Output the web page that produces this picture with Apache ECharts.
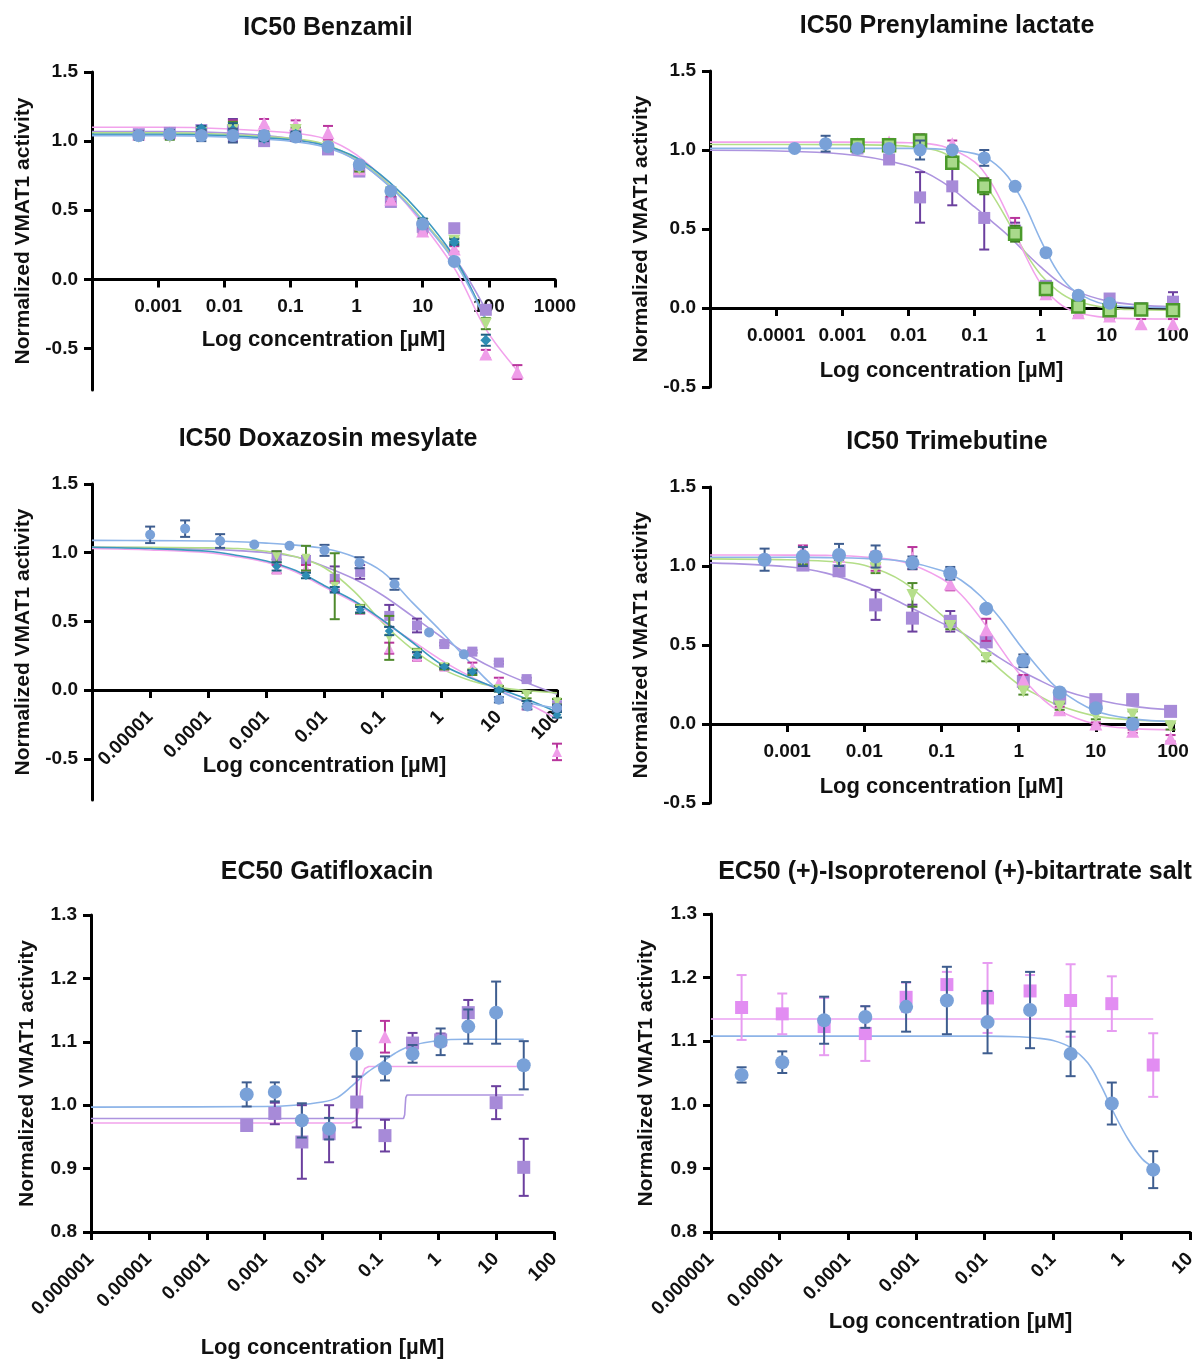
<!DOCTYPE html>
<html>
<head>
<meta charset="utf-8">
<script src="https://cdn.jsdelivr.net/npm/echarts@6/dist/echarts.min.js"></script>
<style>
html, body { margin: 0; background: #fff; }
#chart { width: 1199px; height: 1362px; }
</style>
</head>
<body>
<div id="chart"></div>
<script>
// ---- IC50 Benzamil ----
var conc1 = [0.00051, 0.0015, 0.0045, 0.0135, 0.04, 0.12, 0.37, 1.1, 3.3, 10, 30, 90, 270];
var blue1 = [1.04, 1.05, 1.04, 1.04, 1.04, 1.03, 0.96, 0.83, 0.64, 0.40, 0.13, null];
var blueErr1 = [0.03, 0.03, 0.04, 0.05, 0.03, 0.03, 0.02, 0.02, 0.02, 0.02, 0.02, 0];
var purple1 = [1.05, 1.06, 1.08, 1.08, 1.0, 1.04, 0.94, 0.78, 0.56, 0.38, 0.37, -0.22];
var purpleErr1 = [0.02, 0.02, 0.03, 0.08, 0.03, 0.03, 0.03, 0.02, 0.02, 0.02, 0.02, 0.03];
var pink1 = [1.05, 1.06, 1.08, 1.10, 1.13, 1.12, 1.06, 0.80, 0.58, 0.35, 0.22, -0.54, -0.67];
var pinkErr1 = [0.02, 0.02, 0.02, 0.05, 0.03, 0.03, 0.05, 0.02, 0.02, 0.02, 0.02, 0.03, 0.05];
var green1 = [1.03, 1.03, 1.06, 1.08, 1.03, 1.08, 0.96, 0.80, 0.63, 0.40, 0.28, -0.32];
var greenErr1 = [0.02, 0.02, 0.02, 0.06, 0.02, 0.02, 0.02, 0.02, 0.02, 0.02, 0.02, 0.04];
var teal1 = [1.04, 1.06, 1.09, 1.08, 1.02, 1.05, 0.96, 0.83, 0.64, 0.42, 0.27, -0.44];
var tealErr1 = [0.02, 0.02, 0.02, 0.05, 0.02, 0.02, 0.02, 0.02, 0.02, 0.02, 0.02, 0.04];
var fitX1 = [0.0001, 0.001, 0.01, 0.1, 0.32, 1, 3.2, 10, 32, 90, 270];
var blueFit1 = [1.04, 1.04, 1.03, 1.00, 0.96, 0.86, 0.67, 0.42, 0.11, -0.30];
var tealFit1 = [1.05, 1.05, 1.04, 1.01, 0.97, 0.88, 0.70, 0.46, 0.14, -0.30];
var greenFit1 = [1.06, 1.06, 1.05, 1.02, 0.98, 0.87, 0.68, 0.43, 0.12, -0.28];
var purpleFit1 = [1.07, 1.07, 1.06, 1.02, 0.97, 0.86, 0.67, 0.42, 0.14, -0.22];
var pinkFit1 = [1.10, 1.10, 1.09, 1.06, 1.02, 0.90, 0.68, 0.40, 0.06, -0.36, -0.66];
var xLabels1 = ['0.0001', '0.001', '0.01', '0.1', '1', '10', '100', '1000'];

// ---- IC50 Prenylamine lactate ----
var conc2 = [0.00019, 0.00056, 0.0017, 0.0051, 0.015, 0.046, 0.14, 0.41, 1.2, 3.7, 11, 33, 100];
var blue2 = [1.01, 1.04, 1.01, 1.01, 1.0, 1.0, 0.95, 0.77, 0.35, 0.08, 0.03];
var blueErr2 = [0.01, 0.05, 0.02, 0.02, 0.06, 0.02, 0.05, 0.02, 0.02, 0.02, 0.02];
var purple2 = [null, null, 1.01, 0.94, 0.70, 0.77, 0.57, 0.49, 0.14, 0.05, 0.06, 0.0, 0.04];
var purpleErr2 = [0, 0, 0.03, 0.02, 0.16, 0.12, 0.20, 0.05, 0.03, 0.02, 0.02, 0.02, 0.06];
var green2 = [null, null, 1.03, 1.03, 1.06, 0.92, 0.77, 0.47, 0.12, 0.01, -0.015, -0.01, -0.015];
var greenErr2 = [0, 0, 0.02, 0.02, 0.03, 0.04, 0.05, 0.05, 0.02, 0.02, 0.02, 0.02, 0.02];
var pink2 = [null, null, 1.04, 1.05, 1.07, 1.04, 0.79, 0.50, 0.09, -0.03, -0.05, -0.10, -0.10];
var pinkErr2 = [0, 0, 0.02, 0.02, 0.03, 0.02, 0.03, 0.07, 0.02, 0.02, 0.02, 0.03, 0.03];
var fitX2 = [0.00001, 0.001, 0.01, 0.032, 0.1, 0.18, 0.32, 0.56, 1, 1.8, 3.2, 10, 32, 100];
var blueFit2 = [1.01, 1.01, 1.01, 1.005, 0.977, 0.93, 0.83, 0.66, 0.43, 0.23, 0.11, 0.02, 0.006, 0.002];
var pinkFit2 = [1.05, 1.05, 1.046, 1.025, 0.925, 0.79, 0.585, 0.35, 0.154, 0.037, -0.022, -0.061, -0.068, -0.07];
var greenFit2 = [1.035, 1.034, 1.023, 0.986, 0.857, 0.724, 0.548, 0.363, 0.211, 0.109, 0.049, 0.001, -0.011, -0.014];
var purpleFit2 = [0.998, 0.975, 0.90, 0.80, 0.64, 0.55, 0.46, 0.36, 0.26, 0.17, 0.11, 0.045, 0.018, 0.008];
var xLabels2 = ['0.00001', '0.0001', '0.001', '0.01', '0.1', '1', '10', '100'];

// ---- IC50 Doxazosin mesylate ----
var concBlue3 = [0.00001, 0.00004, 0.00016, 0.00062, 0.0025, 0.01, 0.04, 0.16, 0.63, 2.5, 10, 31, 100];
var blue3 = [1.13, 1.175, 1.085, 1.06, 1.05, 1.017, 0.927, 0.77, 0.42, 0.26, -0.07, -0.12, -0.13];
var blueErr3 = [0.06, 0.06, 0.05, 0, 0, 0.04, 0.04, 0.04, 0, 0, 0.02, 0.02, 0.02];
var conc3 = [0.0015, 0.0048, 0.015, 0.041, 0.13, 0.39, 1.15, 3.5, 10, 30, 100];
var purple3 = [0.98, 0.946, 0.81, 0.86, 0.54, 0.47, 0.335, 0.28, 0.20, 0.08, -0.11];
var purpleErr3 = [0.03, 0.03, 0.09, 0.05, 0.08, 0.05, 0.01, 0.01, 0.01, 0.01, 0.02];
var pink3 = [0.88, 0.89, 0.76, 0.585, 0.305, 0.244, 0.17, 0.17, 0.06, -0.11, -0.45];
var pinkErr3 = [0.03, 0.02, 0.03, 0.03, 0.04, 0.03, 0.02, 0.03, 0.03, 0.03, 0.06];
var teal3 = [0.90, 0.834, 0.73, 0.585, 0.43, 0.256, 0.17, 0.134, 0.0, -0.10, -0.18];
var tealErr3 = [0.03, 0.02, 0.02, 0.02, 0.03, 0.02, 0.01, 0.01, 0.01, 0.02, 0.02];
var green3 = [0.97, 0.96, 0.756, 0.59, 0.38, 0.27, 0.17, 0.13, 0.01, -0.04, -0.085];
var greenErr3 = [0.04, 0.09, 0.24, 0.03, 0.16, 0.03, 0.02, 0.02, 0.02, 0.02, 0.02];
var fitX3 = [0.000001, 0.00001, 0.0001, 0.00032, 0.001, 0.0032, 0.01, 0.032, 0.1, 0.32, 1, 3.2, 10, 32, 100];
var blueFit3 = [1.09, 1.088, 1.085, 1.08, 1.07, 1.055, 1.03, 0.97, 0.86, 0.64, 0.43, 0.20, 0.0, -0.09, -0.13];
var purpleFit3 = [1.04, 1.035, 1.025, 1.015, 1.0, 0.97, 0.90, 0.81, 0.69, 0.54, 0.39, 0.25, 0.14, 0.05, -0.03];
var greenFit3 = [1.04, 1.04, 1.035, 1.03, 1.01, 0.97, 0.89, 0.72, 0.49, 0.30, 0.16, 0.07, 0.02, -0.005, -0.02];
var tealFit3 = [1.04, 1.03, 1.01, 0.98, 0.94, 0.87, 0.76, 0.65, 0.51, 0.35, 0.19, 0.09, 0.01, -0.07, -0.16];
var pinkFit3 = [1.03, 1.02, 1.0, 0.97, 0.93, 0.86, 0.75, 0.64, 0.50, 0.36, 0.22, 0.10, 0.0, -0.10, -0.21];
var xLabels3 = ['0.000001', '0.00001', '0.0001', '0.001', '0.01', '0.1', '1', '10', '100'];

// ---- IC50 Trimebutine ----
var conc4 = [0.00051, 0.0016, 0.0047, 0.014, 0.042, 0.13, 0.38, 1.15, 3.4, 10, 30, 93];
var blue4 = [1.04, 1.06, 1.07, 1.06, 1.02, 0.954, 0.73, 0.40, 0.20, 0.10, 0.0];
var blueErr4 = [0.07, 0.06, 0.07, 0.07, 0.04, 0.04, 0.02, 0.04, 0.02, 0.02, 0.01];
var pink4 = [null, 1.10, 1.06, 1.03, 1.05, 0.886, 0.596, 0.28, 0.09, 0.0, -0.046, -0.09];
var pinkErr4 = [0, 0.03, 0.03, 0.06, 0.07, 0.04, 0.07, 0.03, 0.02, 0.01, 0.01, 0.02];
var purple4 = [null, 1.006, 0.97, 0.754, 0.67, 0.65, 0.52, 0.27, 0.164, 0.154, 0.154, 0.08];
var purpleErr4 = [0, 0.03, 0.03, 0.095, 0.085, 0.065, 0.03, 0.03, 0.02, 0.02, 0.02, 0.02];
var green4 = [null, 1.03, 1.02, 0.985, 0.817, 0.62, 0.417, 0.206, 0.11, 0.05, 0.06, -0.015];
var greenErr4 = [0, 0.02, 0.02, 0.03, 0.075, 0.02, 0.02, 0.02, 0.02, 0.02, 0.02, 0.02];
var fitX4 = [0.0001, 0.001, 0.0032, 0.01, 0.032, 0.1, 0.18, 0.32, 0.56, 1, 1.8, 3.2, 10, 32, 100];
var blueFit4 = [1.055, 1.055, 1.053, 1.048, 1.03, 0.972, 0.91, 0.81, 0.675, 0.51, 0.355, 0.226, 0.082, 0.031, 0.015];
var pinkFit4 = [1.07, 1.069, 1.067, 1.057, 1.025, 0.921, 0.818, 0.67, 0.493, 0.322, 0.183, 0.089, -0.001, -0.029, -0.037];
var greenFit4 = [1.045, 1.04, 1.03, 1.005, 0.90, 0.69, 0.585, 0.46, 0.35, 0.25, 0.18, 0.12, 0.05, 0.025, 0.017];
var purpleFit4 = [1.02, 0.995, 0.955, 0.875, 0.76, 0.64, 0.58, 0.50, 0.42, 0.345, 0.28, 0.225, 0.155, 0.11, 0.09];
var xLabels4 = ['0.0001', '0.001', '0.01', '0.1', '1', '10', '100'];

// ---- EC50 Gatifloxacin ----
var conc5 = [0.00049, 0.0015, 0.0044, 0.013, 0.039, 0.12, 0.36, 1.1, 3.3, 10, 30];
var blue5 = [1.017, 1.021, 0.976, 0.963, 1.081, 1.058, 1.081, 1.10, 1.124, 1.146, 1.063];
var blueErr5 = [0.019, 0.015, 0.027, 0.017, 0.036, 0.019, 0.014, 0.021, 0.027, 0.049, 0.038];
var purple5 = [0.968, 0.987, 0.942, 0.955, 1.005, 0.952, 1.098, 1.103, 1.146, 1.004, 0.902];
var purpleErr5 = [0, 0.017, 0.058, 0.045, 0.04, 0.025, 0.016, 0.01, 0.02, 0.026, 0.045];
var concPink5 = [0.12];
var pink5 = [1.108];
var pinkErr5 = [0.025];
var fitXBlue5 = [0.000001, 0.001, 0.0032, 0.01, 0.018, 0.032, 0.056, 0.1, 0.18, 0.32, 1, 3.2, 30];
var blueFit5 = [0.997, 0.998, 1.0, 1.005, 1.012, 1.03, 1.05, 1.066, 1.082, 1.093, 1.102, 1.104, 1.104];
var fitXPink5 = [0.000001, 0.0316, 0.0372, 0.0417, 0.0447, 0.0479, 0.0537, 0.063, 30];
var pinkFit5 = [0.972, 0.972, 0.976, 0.99, 1.02, 1.045, 1.058, 1.061, 1.061];
var fitXPurple5 = [0.000001, 0.251, 0.263, 0.269, 0.275, 0.288, 30];
var purpleFit5 = [0.979, 0.979, 0.985, 1.0, 1.012, 1.016, 1.016];
var xLabels5 = ['0.000001', '0.00001', '0.0001', '0.001', '0.01', '0.1', '1', '10', '100'];

// ---- EC50 (+)-Isoproterenol (+)-bitartrate salt ----
var conc6 = [0.0000028, 0.000011, 0.000045, 0.00018, 0.00071, 0.0028, 0.011, 0.046, 0.18, 0.72, 2.9];
var blue6 = [1.047, 1.067, 1.133, 1.138, 1.154, 1.164, 1.13, 1.149, 1.08, 1.002, 0.898];
var blueErr6 = [0.012, 0.017, 0.037, 0.017, 0.039, 0.053, 0.049, 0.06, 0.035, 0.033, 0.029];
var pink6 = [1.153, 1.143, 1.123, 1.112, 1.169, 1.189, 1.168, 1.179, 1.164, 1.159, 1.0625];
var pinkErr6 = [0.051, 0.032, 0.045, 0.043, 0.023, 0.02, 0.055, 0.025, 0.057, 0.043, 0.05];
var fitXPink6 = [0.000001, 2.9];
var pinkFit6 = [1.135, 1.135];
var fitXBlue6 = [0.000001, 0.01, 0.032, 0.056, 0.1, 0.18, 0.32, 0.5, 0.79, 1.26, 2.0, 2.9];
var blueFit6 = [1.108, 1.108, 1.107, 1.105, 1.101, 1.09, 1.066, 1.03, 0.985, 0.945, 0.915, 0.902];
var xLabels6 = ['0.000001', '0.00001', '0.0001', '0.001', '0.01', '0.1', '1', '10'];

var titles = ['IC50 Benzamil', 'IC50 Prenylamine lactate', 'IC50 Doxazosin mesylate',
  'IC50 Trimebutine', 'EC50 Gatifloxacin', 'EC50 (+)-Isoproterenol (+)-bitartrate salt'];

var yTicksA = [-0.5, 0, 0.5, 1.0, 1.5];
var yTicksB = [0.8, 0.9, 1.0, 1.1, 1.2, 1.3];
var yRanges = [[-0.8, 1.5], [-0.5, 1.5], [-0.8, 1.5], [-0.5, 1.5], [0.8, 1.3], [0.8, 1.3]];

var FONT = '"Liberation Sans", Arial, Helvetica, sans-serif';

var styles = {
  blue:    { fill: '#79a1d8', err: '#3e5d8f', line: '#8db4e8', symbol: 'circle' },
  purple:  { fill: '#a78ad8', err: '#6b3f9e', line: '#ad94df', symbol: 'rect' },
  pink:    { fill: '#ef9de9', err: '#b8359c', line: '#f2a2ec', symbol: 'triangle' },
  green:   { fill: '#b6df8b', err: '#4f8a2c', line: '#b4de88', symbol: 'triangle', rotate: 180 },
  teal:    { fill: '#2e8db5', err: '#1f5f80', line: '#3c98c0', symbol: 'diamond' },
  greenSq: { fill: '#a9d98b', border: '#4b9a2b', err: '#3f7f22', line: '#b4de88', symbol: 'rect' },
  magenta: { fill: '#e28df2', err: '#e79cf1', line: '#eba2f3', symbol: 'rect' }
};

var series = [];

function pairs(xs, ys) {
  var out = [];
  for (var i = 0; i < ys.length; i++) {
    if (ys[i] != null) out.push([xs[i], ys[i]]);
  }
  return out;
}

function errRender(color) {
  return function (params, api) {
    var x = api.value(0);
    var a = api.coord([x, api.value(1)]);
    var b = api.coord([x, api.value(2)]);
    var w = 5;
    var st = { stroke: color, lineWidth: 2 };
    return {
      type: 'group',
      children: [
        { type: 'line', shape: { x1: a[0], y1: a[1], x2: b[0], y2: b[1] }, style: st },
        { type: 'line', shape: { x1: a[0] - w, y1: a[1], x2: a[0] + w, y2: a[1] }, style: st },
        { type: 'line', shape: { x1: b[0] - w, y1: b[1], x2: b[0] + w, y2: b[1] }, style: st }
      ]
    };
  };
}

function addFit(g, key, xs, ys, smooth) {
  series.push({
    type: 'line', xAxisIndex: g, yAxisIndex: g, z: 2,
    data: pairs(xs, ys), showSymbol: false, symbol: 'none',
    smooth: smooth === false ? false : 0.35,
    lineStyle: { color: styles[key].line, width: 1.6 },
    silent: true
  });
}

function addPoints(g, key, xs, ys, sd, size, z) {
  var s = styles[key];
  var bars = [];
  for (var i = 0; i < ys.length; i++) {
    if (ys[i] == null || !sd[i]) continue;
    bars.push([xs[i], ys[i] - sd[i], ys[i] + sd[i]]);
  }
  series.push({
    type: 'custom', xAxisIndex: g, yAxisIndex: g, z: z,
    renderItem: errRender(s.err), encode: { x: 0, y: [1, 2] },
    data: bars, silent: true
  });
  series.push({
    type: 'scatter', xAxisIndex: g, yAxisIndex: g, z: z + 1,
    data: pairs(xs, ys), symbol: s.symbol, symbolSize: size,
    symbolRotate: s.rotate || 0,
    itemStyle: { color: s.fill, opacity: 1, borderColor: s.border || s.fill, borderWidth: s.border ? 2.5 : 0 },
    silent: true
  });
}

// panel 1
addFit(0, 'purple', fitX1, purpleFit1);
addFit(0, 'pink', fitX1, pinkFit1);
addFit(0, 'green', fitX1, greenFit1);
addFit(0, 'teal', fitX1, tealFit1);
addFit(0, 'blue', fitX1, blueFit1);
addPoints(0, 'purple', conc1, purple1, purpleErr1, 12, 3);
addPoints(0, 'pink', conc1, pink1, pinkErr1, 13, 5);
addPoints(0, 'green', conc1, green1, greenErr1, 12, 7);
addPoints(0, 'teal', conc1, teal1, tealErr1, 11, 9);
addPoints(0, 'blue', conc1, blue1, blueErr1, 13, 11);

// panel 2
addFit(1, 'purple', fitX2, purpleFit2);
addFit(1, 'greenSq', fitX2, greenFit2);
addFit(1, 'pink', fitX2, pinkFit2);
addFit(1, 'blue', fitX2, blueFit2);
addPoints(1, 'purple', conc2, purple2, purpleErr2, 12, 3);
addPoints(1, 'pink', conc2, pink2, pinkErr2, 13, 5);
addPoints(1, 'greenSq', conc2, green2, greenErr2, 12, 7);
addPoints(1, 'blue', conc2, blue2, blueErr2, 13, 11);

// panel 3
addFit(2, 'purple', fitX3, purpleFit3);
addFit(2, 'green', fitX3, greenFit3);
addFit(2, 'pink', fitX3, pinkFit3);
addFit(2, 'teal', fitX3, tealFit3);
addFit(2, 'blue', fitX3, blueFit3);
addPoints(2, 'purple', conc3, purple3, purpleErr3, 10, 3);
addPoints(2, 'pink', conc3, pink3, pinkErr3, 10, 5);
addPoints(2, 'green', conc3, green3, greenErr3, 9, 7);
addPoints(2, 'teal', conc3, teal3, tealErr3, 9, 9);
addPoints(2, 'blue', concBlue3, blue3, blueErr3, 10, 11);

// panel 4
addFit(3, 'purple', fitX4, purpleFit4);
addFit(3, 'green', fitX4, greenFit4);
addFit(3, 'pink', fitX4, pinkFit4);
addFit(3, 'blue', fitX4, blueFit4);
addPoints(3, 'purple', conc4, purple4, purpleErr4, 13, 3);
addPoints(3, 'pink', conc4, pink4, pinkErr4, 13, 5);
addPoints(3, 'green', conc4, green4, greenErr4, 12, 7);
addPoints(3, 'blue', conc4, blue4, blueErr4, 14, 11);

// panel 5
addFit(4, 'purple', fitXPurple5, purpleFit5, false);
addFit(4, 'pink', fitXPink5, pinkFit5, false);
addFit(4, 'blue', fitXBlue5, blueFit5);
addPoints(4, 'purple', conc5, purple5, purpleErr5, 13, 3);
addPoints(4, 'pink', concPink5, pink5, pinkErr5, 13, 5);
addPoints(4, 'blue', conc5, blue5, blueErr5, 14, 11);

// panel 6
addFit(5, 'magenta', fitXPink6, pinkFit6, false);
addFit(5, 'blue', fitXBlue6, blueFit6);
addPoints(5, 'magenta', conc6, pink6, pinkErr6, 13, 3);
addPoints(5, 'blue', conc6, blue6, blueErr6, 14, 11);

var grids = [
  { left: 92, top: 72, width: 463, height: 318 },
  { left: 710, top: 71, width: 463, height: 316 },
  { left: 92, top: 484, width: 465, height: 316 },
  { left: 710, top: 487, width: 463, height: 316 },
  { left: 91, top: 915, width: 463, height: 317 },
  { left: 711, top: 914, width: 479, height: 318 }
];
grids.forEach(function (g) { g.outerBoundsMode = 'none'; g.containLabel = false; });

// x axis sits on y = 0 when the y range crosses zero
function zeroOffset(i) {
  var r = yRanges[i];
  if (r[0] >= 0) return 0;
  return -(0 - r[0]) / (r[1] - r[0]) * grids[i].height;
}

function logFormatter(labels) {
  return function (v) {
    var e = Math.log10(v);
    for (var i = 0; i < labels.length; i++) {
      if (Math.abs(Math.log10(Number(labels[i])) - e) < 0.01) return labels[i];
    }
    return '';
  };
}

function xAxis(g, labels, rotate, nameGap, showMin) {
  return {
    type: 'log', logBase: 10, gridIndex: g, position: 'bottom', offset: zeroOffset(g),
    min: Number(labels[0]), max: Number(labels[labels.length - 1]),
    name: 'Log concentration [µM]', nameLocation: 'middle', nameGap: nameGap,
    nameMoveOverlap: false,
    nameTextStyle: { fontFamily: FONT, fontWeight: 'bold', color: '#111', fontSize: 22 },
    axisLine: { onZero: false, lineStyle: { color: '#000', width: 3 } },
    axisTick: { show: true, length: 8, lineStyle: { color: '#000', width: 3 } },
    minorTick: { show: false },
    axisLabel: {
      formatter: logFormatter(labels), rotate: rotate, margin: rotate ? 24 : 18,
      showMinLabel: showMin, showMaxLabel: true, hideOverlap: false,
      fontFamily: FONT, fontWeight: 'bold', color: '#111', fontSize: 19
    },
    splitLine: { show: false }
  };
}

function yAxis(g, ticks, nameGap) {
  return {
    type: 'value', gridIndex: g, min: yRanges[g][0], max: yRanges[g][1],
    name: 'Normalized VMAT1 activity', nameLocation: 'middle', nameGap: nameGap,
    nameMoveOverlap: false,
    nameTextStyle: { fontFamily: FONT, fontWeight: 'bold', color: '#111', fontSize: 21 },
    axisLine: { show: true, onZero: false, lineStyle: { color: '#000', width: 3 } },
    axisTick: { show: true, customValues: ticks, length: 8, lineStyle: { color: '#000', width: 3 } },
    axisLabel: {
      customValues: ticks, formatter: function (v) { return Number(v).toFixed(1); },
      margin: 14, fontFamily: FONT, fontWeight: 'bold', color: '#111', fontSize: 19
    },
    splitLine: { show: false }
  };
}

var titleCenters = [[323, 11], [942, 9], [323, 422], [942, 425], [322, 855], [950, 855]];

var option = {
  backgroundColor: '#fff',
  animation: false,
  title: titles.map(function (t, i) {
    return {
      text: t, left: titleCenters[i][0], top: titleCenters[i][1], textAlign: 'center',
      textStyle: { fontFamily: FONT, fontWeight: 'bold', color: '#111', fontSize: 25 }
    };
  }),
  grid: grids,
  xAxis: [
    xAxis(0, xLabels1, 0, 50, false),
    xAxis(1, xLabels2, 0, 52, false),
    xAxis(2, xLabels3, 45, 65, false),
    xAxis(3, xLabels4, 0, 52, false),
    xAxis(4, xLabels5, 45, 105, true),
    xAxis(5, xLabels6, 45, 79, true)
  ],
  yAxis: [
    yAxis(0, yTicksA, 58),
    yAxis(1, yTicksA, 58),
    yAxis(2, yTicksA, 58),
    yAxis(3, yTicksA, 58),
    yAxis(4, yTicksB, 53),
    yAxis(5, yTicksB, 54)
  ],
  series: series
};

var chart = echarts.init(document.getElementById('chart'));
chart.setOption(option);
</script>
</body>
</html>
